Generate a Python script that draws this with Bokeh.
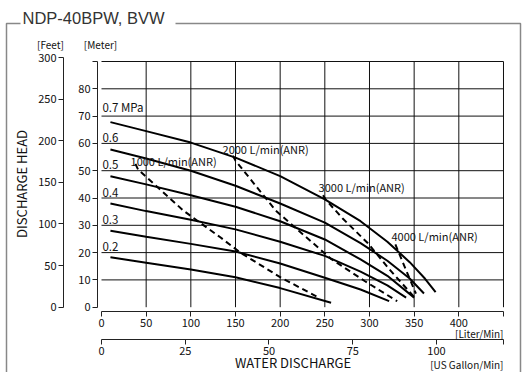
from bokeh.plotting import figure
from bokeh.models import Range1d, LinearAxis, FixedTicker, Label
from bokeh.core.properties import value
from bokeh.embed import file_html
from bokeh.resources import INLINE

FONT = "Noto Sans CJK JP"

# ---------------- data ----------------
flow_ticks = [0, 50, 100, 150, 200, 250, 300, 350, 400, 450]
meter_ticks = [0, 10, 20, 30, 40, 50, 60, 70, 80, 90]
feet_ticks = [0, 50, 100, 150, 200, 250, 300]
gallon_ticks = [0, 25, 50, 75, 100, 120]
grid_flow = [50, 100, 150, 200, 250, 300, 350, 400, 450]
grid_head = [10, 20, 30, 40, 50, 60, 70, 80, 90]

pressure_labels = ["0.7 MPa", "0.6", "0.5", "0.4", "0.3", "0.2"]
pressure_label_heads = [70, 60, 50, 40, 30, 20]

flow_07 = [10, 50, 100, 150, 200, 250, 290, 320, 345, 362, 374]
head_07 = [67.8, 64.5, 60.3, 54.8, 48.0, 39.5, 31.5, 24.0, 16.5, 10.5, 5.5]
flow_06 = [10, 50, 100, 150, 200, 250, 290, 320, 345, 361]
head_06 = [57.8, 54.5, 50.0, 44.5, 38.0, 31.0, 23.5, 17.0, 10.5, 5.0]
flow_05 = [10, 50, 100, 150, 200, 250, 290, 320, 350]
head_05 = [48.0, 45.0, 41.0, 36.8, 31.5, 24.8, 17.5, 11.5, 3.5]
flow_04 = [10, 50, 100, 150, 200, 250, 290, 320, 341]
head_04 = [38.0, 35.2, 32.0, 28.5, 24.0, 18.8, 13.0, 8.0, 3.5]
flow_03 = [10, 50, 100, 150, 200, 250, 290, 322]
head_03 = [28.0, 25.8, 23.2, 20.4, 16.0, 10.8, 6.5, 2.2]
flow_02 = [10, 50, 100, 150, 200, 257]
head_02 = [18.3, 16.3, 13.8, 11.0, 7.0, 1.6]

air_labels = ["1000 L/min(ANR)", "2000 L/min(ANR)", "3000 L/min(ANR)", "4000 L/min(ANR)"]
air_label_flow = [32.5, 135.5, 243.0, 324.6]
air_label_head = [53.7, 57.8, 44.0, 25.9]

air_1000_flow = [38, 41, 92, 133, 155, 200, 242]
air_1000_head = [52.5, 50.4, 35.3, 25.6, 20.1, 11.0, 3.7]
air_2000_flow = [147, 150, 195, 257, 295, 331]
air_2000_head = [55.5, 53.7, 35.4, 17.7, 9.5, 2.2]
air_3000_flow = [248, 251, 270, 298, 322, 350]
air_3000_head = [41.0, 39.4, 32.5, 23.5, 14.0, 3.7]
air_4000_flow = [329, 331, 341, 352]
air_4000_head = [23.0, 21.4, 13.5, 5.0]

L_PER_GAL = 3.75
M_TO_FT = 3.2808

# ---------------- layout helpers (reference pixel -> data) ----------------
W, H = 522, 372
PX_PER_L = 0.8933
PX_PER_M = 2.73


def X(px):
    return (px - 101) / PX_PER_L


def Y(py):
    return (306.7 - py) / PX_PER_M


x0, x1 = X(0), X(W)
y0, y1 = Y(H), Y(0)

p = figure(width=W, height=H, x_range=Range1d(x0, x1), y_range=Range1d(y0, y1),
           output_backend="svg", toolbar_location=None,
           min_border_left=0, min_border_right=0, min_border_top=0, min_border_bottom=0,
           outline_line_color=None, background_fill_color="white", border_fill_color="white")
p.xgrid.visible = False
p.ygrid.visible = False

p.extra_y_ranges = {"feet": Range1d(y0 * M_TO_FT, y1 * M_TO_FT)}
p.extra_x_ranges = {"gal": Range1d(x0 / L_PER_GAL, x1 / L_PER_GAL)}


def style_axis(ax, size="11px"):
    ax.axis_line_color = "#222"
    ax.axis_line_width = 1
    ax.major_tick_line_color = "#222"
    ax.major_tick_out = 5
    ax.major_tick_in = 0
    ax.minor_tick_line_color = None
    ax.major_label_text_font = FONT
    ax.major_label_text_font_size = size
    ax.major_label_text_color = "#111"
    ax.major_label_standoff = 2
    ax.axis_label_text_font = FONT
    ax.axis_label_text_font_style = "normal"
    ax.axis_label_text_color = "#111"


# meter axis
ym = p.yaxis[0]
ym.ticker = FixedTicker(ticks=meter_ticks)
ym.bounds = (0, 90)
ym.major_label_overrides = {90: ""}
ym.fixed_location = X(97)
style_axis(ym)

# feet axis
yf = LinearAxis(y_range_name="feet", ticker=FixedTicker(ticks=feet_ticks), bounds=(0, 300),
                axis_label="DISCHARGE  HEAD", fixed_location=X(63))
style_axis(yf)
yf.axis_label_text_font_size = "13px"
yf.axis_label_standoff = 4
p.add_layout(yf, "left")

# liter axis
xl = p.xaxis[0]
xl.ticker = FixedTicker(ticks=flow_ticks)
xl.bounds = (0, 450)
xl.major_label_overrides = {450: ""}
xl.fixed_location = Y(311)
style_axis(xl)

# gallon axis
xg = LinearAxis(x_range_name="gal", ticker=FixedTicker(ticks=gallon_ticks), bounds=(0, 120),
                fixed_location=Y(339))
style_axis(xg)
xg.major_label_overrides = {120: ""}
p.add_layout(xg, "below")

# decorative frame around the whole chart (gap left for the title)
p.line(x=[X(20), X(6), X(6)], y=[Y(23), Y(23), Y(400)], line_color="#888", line_width=1.5)
p.line(x=[X(175), X(520), X(520)], y=[Y(23), Y(23), Y(400)], line_color="#888", line_width=1.5)

# grid lines
p.segment(x0=grid_flow, y0=[0] * len(grid_flow), x1=grid_flow, y1=[90] * len(grid_flow),
          line_color="#111", line_width=1)
p.segment(x0=[0] * len(grid_head), y0=grid_head, x1=[450] * len(grid_head), y1=grid_head,
          line_color="#111", line_width=1)

# performance curves
for fx, hy in [(flow_07, head_07), (flow_06, head_06), (flow_05, head_05),
               (flow_04, head_04), (flow_03, head_03), (flow_02, head_02)]:
    p.line(fx, hy, line_color="black", line_width=2)

# air consumption lines
for fx, hy in [(air_1000_flow, air_1000_head), (air_2000_flow, air_2000_head),
               (air_3000_flow, air_3000_head), (air_4000_flow, air_4000_head)]:
    p.line(fx, hy, line_color="black", line_width=2, line_dash="6 4")

# labels
p.text(x=[1] * len(pressure_labels), y=[h + 0.5 for h in pressure_label_heads], text=pressure_labels,
       text_baseline="bottom", text_align="left", text_font=value(FONT),
       text_font_size="11.5px", text_color="#111")
p.text(x=air_label_flow, y=air_label_head, text=air_labels, text_baseline="middle",
       text_align="left", text_font=value(FONT), text_font_size="11px", text_color="#111")

p.add_layout(Label(x=X(22), y=Y(17), text="NDP-40BPW, BVW", text_baseline="middle",
                   text_align="left", text_font="Liberation Sans", text_font_size="16.5px",
                   text_color="#333"))

for txt, px, py, al, fs in [("[Feet]", 50, 44, "center", "10px"),
                            ("[Meter]", 100, 44, "center", "10px"),
                            ("[Liter/Min]", 503, 333, "right", "10px"),
                            ("[US Gallon/Min]", 503, 364, "right", "10px"),
                            ("WATER  DISCHARGE", 294, 362, "center", "13px")]:
    p.add_layout(Label(x=X(px), y=Y(py), text=txt, text_align=al, text_baseline="middle",
                       text_font=FONT, text_font_size=fs, text_color="#111"))

open("out.html", "w").write(file_html(p, INLINE))
